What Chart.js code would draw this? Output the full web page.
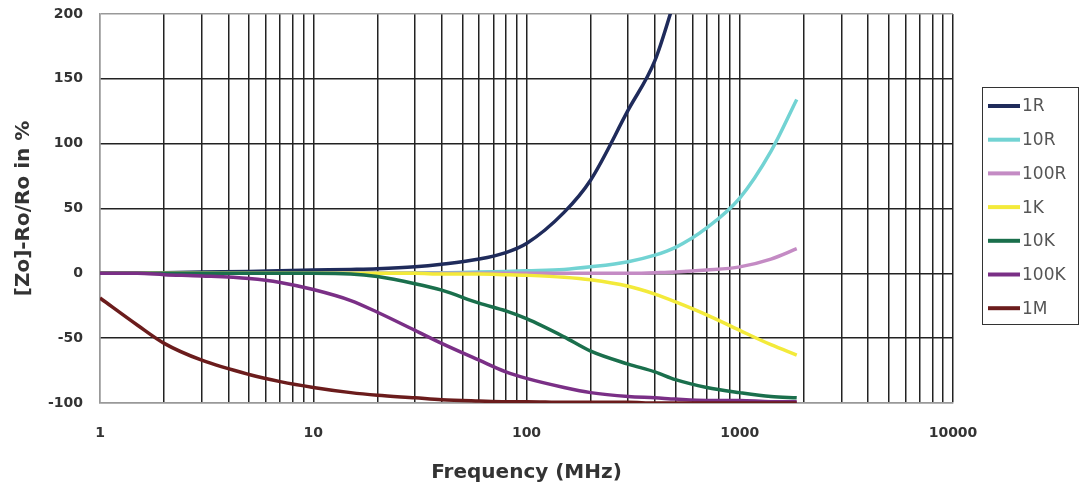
<!DOCTYPE html>
<html>
<head>
    <meta charset="UTF-8">
    <title>Impedance deviation vs frequency</title>
    <script src="https://cdn.jsdelivr.net/npm/chart.js"></script>
    <style>
      body { margin: 0; background: #fff; }
      #wrap { width: 1081px; height: 492px; }
    </style>
</head>
<body>
    <div id="wrap"><canvas id="myChart"></canvas></div>

    <script>
        // frequency points (MHz), shared by all series
        const freqs = [1, 1.5, 2, 3, 5, 7, 10, 15, 20, 30, 40, 60, 80, 100, 150, 200, 300, 400, 500, 700, 1000, 1400, 1850];

        // deviation in %, one array per load resistance
        const r1   = [0, 0, 0.5, 1, 1.5, 2, 2.5, 3, 3.5, 5, 7, 11, 16, 23, 47, 72, 126, 164, 213, null, null, null, null];
        const r10  = [0, 0, 0, 0, 0, 0, 0, 0, 0, 0.5, 0.5, 1, 1.5, 2, 3, 5, 9, 14, 20, 35, 58, 94, 134];
        const r100 = [0, 0, 0, 0, 0, 0, 0, 0, 0, 0, 0, 0, 0, 0, 0, 0, 0, 0.5, 1, 2.5, 5, 11, 19];
        const k1   = [0, 0, 0, 0, 0, 0, 0, 0, 0, 0, -0.5, -0.5, -1, -1.5, -3, -5, -10, -16, -22, -32, -44, -55, -63];
        const k10  = [0, 0, 0, 0, 0, 0, 0, -0.5, -2.5, -8, -13, -23, -29, -35, -49, -60, -70, -76, -82, -88, -92, -95, -96];
        const k100 = [0, 0, -1, -2, -4, -7, -12.5, -21, -30, -44, -54, -67, -76, -81, -88, -92, -95, -96, -97, -98, -98, -99, -99];
        const m1   = [-19, -40, -54, -67, -78, -83.5, -88, -92, -94, -96, -97.5, -98.5, -99, -99, -99.5, -99.5, -99.5, -100, -100, -100, -100, -100, -100];

        const seriesNames  = ['1R', '10R', '100R', '1K', '10K', '100K', '1M'];
        const seriesValues = [r1, r10, r100, k1, k10, k100, m1];
        const seriesColors = ['#1f2b5b', '#72d3d3', '#c48bc4', '#f3ea3a', '#1a6f4c', '#7a2f86', '#6b1c1c'];

        const xTickLabels = [1, 10, 100, 1000, 10000];
        const yTicks = { min: -100, max: 200, step: 50 };

        // all log grid positions 1..9 per decade
        const xGrid = [];
        for (let d = 1; d < 10000; d *= 10) {
            for (let m = 1; m <= 9; m++) xGrid.push(m * d);
        }
        xGrid.push(10000);

        Chart.defaults.font.family = 'DejaVu Sans';

        const datasets = seriesNames.map((name, i) => ({
            label: name,
            data: freqs.map((f, j) => ({ x: f, y: seriesValues[i][j] })),
            borderColor: seriesColors[i],
            backgroundColor: seriesColors[i],
            borderWidth: 3.5,
            pointRadius: 0,
            cubicInterpolationMode: 'monotone',
            spanGaps: false,
            order: seriesNames.length - i   // later series on top, like the original
        }));

        // boxed legend at the right side
        const boxLegend = {
            id: 'boxLegend',
            afterDraw(chart) {
                const c = chart.ctx;
                c.save();
                c.strokeStyle = '#333';
                c.lineWidth = 1;
                c.strokeRect(982.5, 87.5, 96, 237);
                c.font = '17px "DejaVu Sans"';
                c.textBaseline = 'middle';
                c.fillStyle = '#555';
                chart.data.datasets.forEach((ds, i) => {
                    const y = 106 + i * 33.7;
                    c.strokeStyle = ds.borderColor;
                    c.lineWidth = 4;
                    c.beginPath();
                    c.moveTo(988, y);
                    c.lineTo(1020, y);
                    c.stroke();
                    c.fillText(ds.label, 1022, y + 1);
                });
                c.restore();
            }
        };

        const config = {
            type: 'line',
            data: { datasets },
            options: {
                responsive: true,
                maintainAspectRatio: false,
                animation: false,
                layout: { padding: { top: 14, right: 128, left: 0, bottom: 0 } },
                plugins: {
                    legend: { display: false },
                    tooltip: { enabled: false }
                },
                scales: {
                    x: {
                        type: 'logarithmic',
                        min: 1,
                        max: 10000,
                        afterBuildTicks(scale) {
                            scale.ticks = xGrid.map(v => ({ value: v }));
                        },
                        afterFit(scale) { scale.height = 89; },
                        ticks: {
                            autoSkip: false,
                            maxRotation: 0,
                            padding: 22,
                            color: '#333',
                            font: { size: 14, weight: 'bold' },
                            callback: v => xTickLabels.includes(v) ? String(v) : ''
                        },
                        grid: {
                            drawTicks: false,
                            lineWidth: 1.5,
                            color: c => (c.tick && c.tick.value === 1) ? '#999' : '#222'
                        },
                        border: { color: '#999', width: 1.5 },
                        title: {
                            display: true,
                            text: 'Frequency (MHz)',
                            color: '#333',
                            font: { size: 20, weight: 'bold' },
                            padding: { top: 0, bottom: 7 }
                        }
                    },
                    y: {
                        min: yTicks.min,
                        max: yTicks.max,
                        afterFit(scale) {
                            scale.width = 100;
                            // the tick padding would otherwise push the plot top down
                            scale.paddingTop = 0;
                            scale.paddingBottom = 0;
                        },
                        ticks: {
                            stepSize: yTicks.step,
                            padding: 17,
                            color: '#333',
                            font: { size: 14, weight: 'bold' }
                        },
                        grid: {
                            drawTicks: false,
                            lineWidth: 1.5,
                            color: c => (c.tick && (c.tick.value === 200 || c.tick.value === -100)) ? '#999' : '#222'
                        },
                        border: { color: '#999', width: 1.5 },
                        title: {
                            display: true,
                            text: '[Zo]-Ro/Ro in %',
                            color: '#333',
                            font: { size: 20, weight: 'bold' },
                            padding: { top: 12, bottom: 0 }
                        }
                    }
                }
            },
            plugins: [boxLegend]
        };

        new Chart(document.getElementById('myChart'), config);
    </script>
</body>
</html>
